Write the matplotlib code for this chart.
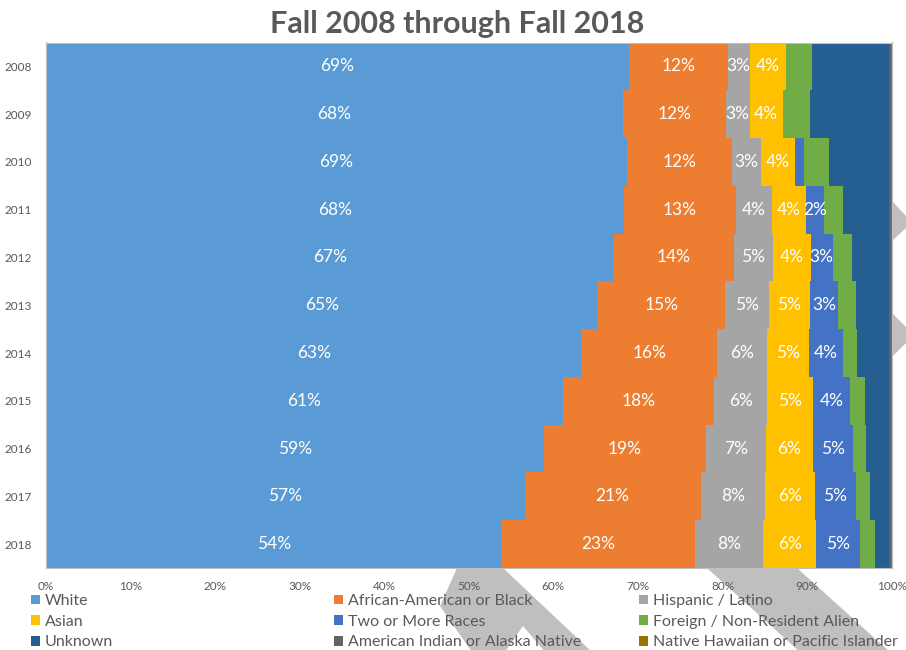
import matplotlib
matplotlib.use("Agg")
import matplotlib.pyplot as plt
from matplotlib.patches import Polygon, Patch
import numpy as np

plt.rcParams['font.family'] = ['Lato', 'DejaVu Sans']

years = ["2008", "2009", "2010", "2011", "2012", "2013",
         "2014", "2015", "2016", "2017", "2018"]

white = [68.9, 68.2, 68.7, 68.3, 67.2, 65.2, 63.3, 61.1, 58.9, 56.6, 53.9]
black = [11.7, 12.2, 12.4, 13.3, 14.1, 15.1, 16.1, 17.9, 19.1, 20.8, 22.8]
hispanic = [2.6, 2.8, 3.4, 4.2, 4.7, 5.2, 5.8, 6.3, 7.1, 7.6, 8.1]
asian = [4.3, 3.9, 4.1, 4.1, 4.4, 4.8, 5.0, 5.4, 5.6, 5.9, 6.3]
two_more = [0.0, 0.0, 1.0, 2.1, 2.6, 3.4, 4.0, 4.4, 4.7, 4.9, 5.2]
foreign = [3.1, 3.2, 3.0, 2.3, 2.3, 2.1, 1.7, 1.7, 1.6, 1.6, 1.7]
unknown = [9.1, 9.4, 7.1, 5.4, 4.4, 3.9, 3.8, 2.9, 2.7, 2.3, 1.7]
am_indian = [0.2, 0.2, 0.2, 0.2, 0.2, 0.2, 0.2, 0.2, 0.2, 0.2, 0.2]
hawaiian = [0.1, 0.1, 0.1, 0.1, 0.1, 0.1, 0.1, 0.1, 0.1, 0.1, 0.1]

series = [
    ("White", white, "#5B9BD5", True),
    ("African-American or Black", black, "#ED7D31", True),
    ("Hispanic / Latino", hispanic, "#A5A5A5", True),
    ("Asian", asian, "#FFC000", True),
    ("Two or More Races", two_more, "#4472C4", True),
    ("Foreign / Non-Resident Alien", foreign, "#70AD47", False),
    ("Unknown", unknown, "#255E91", False),
    ("American Indian or Alaska Native", am_indian, "#636363", False),
    ("Native Hawaiian or Pacific Islander", hawaiian, "#997300", False),
]

TXT = "#595959"
W, H = 906, 650

fig = plt.figure(figsize=(W / 100, H / 100), dpi=100)


# helper: image pixel coords (y from top) -> figure fraction
def px(pts):
    return [(x / W, 1 - y / H) for x, y in pts]


# grey chevron watermark behind the chart
stripes = [
    [(457, 568), (503, 568), (592, 652), (545, 652), (523, 626), (505, 652), (472, 652), (440, 606)],
    [(707, 568), (797, 568), (890, 652), (800, 652)],
    [(892, 201), (906, 216), (912, 222), (906, 228), (892, 241)],
    [(892, 313), (906, 327), (912, 334), (906, 343), (892, 357)],
]
for s in stripes:
    fig.add_artist(Polygon(px(s), closed=True, transform=fig.transFigure,
                           facecolor="#BFBFBF", edgecolor="none", zorder=-1))

ax = fig.add_axes([46 / W, 82 / H, 845.7 / W, 525.5 / H])

y = np.arange(len(years))
left = np.zeros(len(years))
handles = []
for name, vals, col, lab in series:
    vals = np.array(vals)
    ax.barh(y, vals, left=left, height=1.0, color=col, edgecolor="none")
    if lab:
        for yi, (l, v) in enumerate(zip(left, vals)):
            if v >= 1.5:
                ax.text(l + v / 2, yi, f"{v:.0f}%", ha="center", va="center",
                        color="white", fontsize=12.5)
    handles.append(Patch(facecolor=col, edgecolor="none", label=name))
    left += vals

ax.set_xlim(0, 100)
ax.set_ylim(len(years) - 0.5, -0.5)
ax.set_yticks(y)
ax.set_yticklabels(years)
ax.set_xticks(np.arange(0, 101, 10))
ax.set_xticklabels([f"{t}%" for t in range(0, 101, 10)])
ax.tick_params(axis="both", length=0, labelsize=8.5, labelcolor=TXT)
ax.tick_params(axis="y", pad=10)
ax.tick_params(axis="x", pad=9)
for sp in ax.spines.values():
    sp.set_color("#BFBFBF")
    sp.set_linewidth(0.8)

fig.text(457 / W, 1 - 24 / H, "Fall 2008 through Fall 2018", ha="center",
         va="center", fontsize=22, fontweight="bold", color=TXT)

# legend: three columns placed by hand
col_x = [31, 334, 639]
for c in range(3):
    hs = [handles[c], handles[c + 3], handles[c + 6]]
    lg = fig.legend(handles=hs, loc="upper left",
                    bbox_to_anchor=(col_x[c] / W, 1 - 594 / H),
                    frameon=False, fontsize=11.5, handlelength=0.55,
                    handleheight=0.55, handletextpad=0.3, labelspacing=0.42,
                    borderpad=0, borderaxespad=0)
    for t in lg.get_texts():
        t.set_color(TXT)

fig.savefig("out.png", dpi=100)
